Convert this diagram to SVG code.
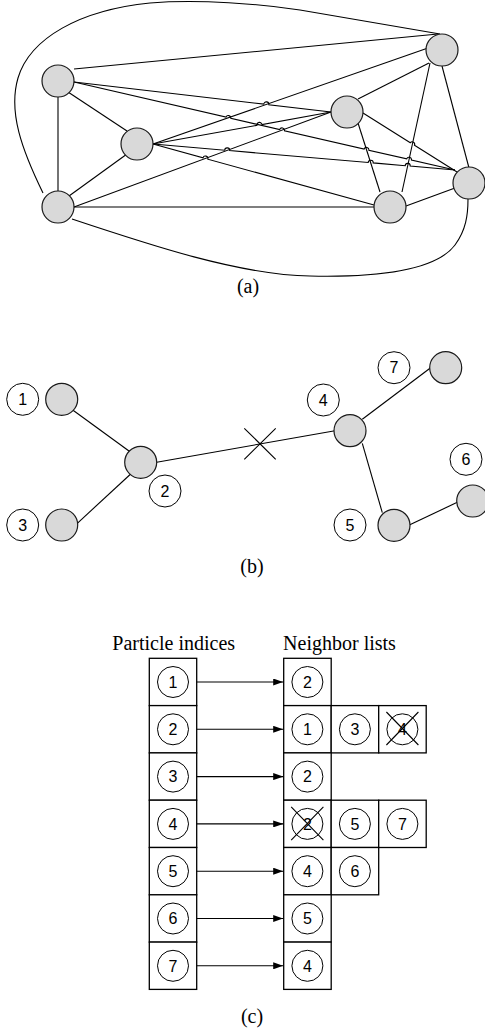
<svg xmlns="http://www.w3.org/2000/svg" width="485" height="1033" viewBox="0 0 485 1033">
<defs>
<style>
.e{fill:none;stroke:#000;stroke-width:1.1}
.n{fill:#d9d9d9;stroke:#1a1a1a;stroke-width:1.2}
.l{fill:#fff;stroke:#000;stroke-width:1}
.b{fill:#fff;stroke:#000;stroke-width:1.3}
.d{font-family:"Liberation Sans",Arial,sans-serif;font-size:16px;text-anchor:middle;fill:#000}
.t{font-family:"Liberation Serif","Times New Roman",serif;font-size:20px;text-anchor:middle;fill:#000}
.x{stroke:#000;stroke-width:1.1}
</style>
<marker id="ah" markerWidth="10" markerHeight="7" refX="10" refY="3.5" orient="auto" markerUnits="userSpaceOnUse">
<path d="M0,0 L10,3.5 L0,7 Z" fill="#000"/>
</marker>
</defs>
<rect width="485" height="1033" fill="#fff"/>

<!-- (a) connectors -->
<g id="a-connectors" class="e">
<path d="M74,69 L438,34"/>
<path d="M58,97 L58,191"/>
<path d="M68,92 L127,131"/>
<path d="M74,82 L263.8,104.1 A2.5,2.5 0 0 1 268.8,104.7 L331,112"/>
<path d="M74,82 L226,117.1 A2.5,2.5 0 0 1 230.8,118.3 L279.7,129.5 A2.5,2.5 0 0 1 284.5,130.7 L364.1,149 A2.5,2.5 0 0 1 368.9,150.2 L406.7,158.8 A2.5,2.5 0 0 1 411.5,160 L455,170"/>
<path d="M153,144 L428,48"/>
<path d="M153,144 L257,125.3 A2.5,2.5 0 0 1 262,124.5 L331,112"/>
<path d="M153,144 L224.7,150.2 A2.5,2.5 0 0 1 229.7,150.6 L368.2,162.5 A2.5,2.5 0 0 1 373.2,162.9 L405.2,165.7 A2.5,2.5 0 0 1 410.2,166.1 L455,170"/>
<path d="M153,144 L203,157.8 A2.5,2.5 0 0 1 207.8,159.2 L374,205"/>
<path d="M69,196 L127,154"/>
<path d="M74,207 L331,112"/>
<path d="M74,207 L374,207"/>
<path d="M43,193 C22,150 8,112 18,78 C30,38 80,10 150,3 C200,-1 260,4 300,10 L440,34"/>
<path d="M72,219 C150,245 240,275 310,276 C400,278 440,265 455,245 C466,230 468,215 468,199"/>
<path d="M358,99 L429,63"/>
<path d="M358,123 L380,192"/>
<path d="M363,113 L410.3,142.7 A2.5,2.5 0 0 1 414.5,145.3 L457,172"/>
<path d="M402,192 L430,63"/>
<path d="M406,206 L455,188"/>
<path d="M442,66 L469,168"/>
</g>

<!-- (a) nodes -->
<g id="a-node-1"><circle class="n" cx="58" cy="81" r="16"/></g>
<g id="a-node-2"><circle class="n" cx="137" cy="144" r="16"/></g>
<g id="a-node-3"><circle class="n" cx="58" cy="207" r="16"/></g>
<g id="a-node-4"><circle class="n" cx="442" cy="50" r="16"/></g>
<g id="a-node-5"><circle class="n" cx="347" cy="112" r="16"/></g>
<g id="a-node-6"><circle class="n" cx="390" cy="207" r="16"/></g>
<g id="a-node-7"><circle class="n" cx="469" cy="183" r="16"/></g>
<text class="t" x="248" y="292.5">(a)</text>

<!-- (b) connectors -->
<g id="b-connectors" class="e">
<path d="M72.7,410 L130,451.7"/>
<path d="M77.3,523.3 L130.7,474"/>
<path d="M156.7,462.3 L335,430.7"/>
<path d="M362.3,419.3 L430,368.3"/>
<path d="M362.3,443.3 L382.3,512.7"/>
<path d="M409.3,525 L457.3,502.3"/>
<path d="M244.3,428.3 L275.7,459.3 M244.3,459.3 L275.7,428.3"/>
</g>

<!-- (b) nodes -->
<g id="b-node-1"><circle class="n" cx="61.7" cy="399.3" r="16"/><circle class="l" cx="22.7" cy="399.3" r="16"/><text class="d" x="22.7" y="405">1</text></g>
<g id="b-node-2"><circle class="n" cx="140.7" cy="462.3" r="16"/><circle class="l" cx="165" cy="491" r="16"/><text class="d" x="165" y="496.7">2</text></g>
<g id="b-node-3"><circle class="n" cx="61.7" cy="525" r="16"/><circle class="l" cx="22.7" cy="525" r="16"/><text class="d" x="22.7" y="530.7">3</text></g>
<g id="b-node-4"><circle class="n" cx="350" cy="430.7" r="16"/><circle class="l" cx="323.3" cy="400" r="16"/><text class="d" x="323.3" y="405.7">4</text></g>
<g id="b-node-5"><circle class="n" cx="394" cy="525.3" r="16"/><circle class="l" cx="350" cy="525" r="16"/><text class="d" x="350" y="530.7">5</text></g>
<g id="b-node-6"><circle class="n" cx="472.7" cy="501" r="16"/><circle class="l" cx="466" cy="459.3" r="16"/><text class="d" x="466" y="465">6</text></g>
<g id="b-node-7"><circle class="n" cx="445.7" cy="367.7" r="16"/><circle class="l" cx="394" cy="367.7" r="16"/><text class="d" x="394" y="373.4">7</text></g>
<text class="t" x="252" y="573">(b)</text>

<!-- (c) -->
<text class="t" x="173.7" y="649.5">Particle indices</text>
<text class="t" x="339.5" y="649.5">Neighbor lists</text>

<g id="c-particles">
<rect class="b" x="149.3" y="658.3" width="47.4" height="47.3"/>
<rect class="b" x="149.3" y="705.6" width="47.4" height="47.3"/>
<rect class="b" x="149.3" y="752.9" width="47.4" height="47.3"/>
<rect class="b" x="149.3" y="800.2" width="47.4" height="47.3"/>
<rect class="b" x="149.3" y="847.5" width="47.4" height="47.3"/>
<rect class="b" x="149.3" y="894.8" width="47.4" height="47.3"/>
<rect class="b" x="149.3" y="942.1" width="47.4" height="47.3"/>
<circle class="l" cx="173" cy="682" r="15.5"/><text class="d" x="173" y="687.7">1</text>
<circle class="l" cx="173" cy="729.3" r="15.5"/><text class="d" x="173" y="735">2</text>
<circle class="l" cx="173" cy="776.6" r="15.5"/><text class="d" x="173" y="782.3">3</text>
<circle class="l" cx="173" cy="823.9" r="15.5"/><text class="d" x="173" y="829.6">4</text>
<circle class="l" cx="173" cy="871.2" r="15.5"/><text class="d" x="173" y="876.9">5</text>
<circle class="l" cx="173" cy="918.5" r="15.5"/><text class="d" x="173" y="924.2">6</text>
<circle class="l" cx="173" cy="965.8" r="15.5"/><text class="d" x="173" y="971.5">7</text>
</g>

<g id="c-neighbors">
<rect class="b" x="283.7" y="658.3" width="47.5" height="47.3"/>
<rect class="b" x="283.7" y="705.6" width="47.5" height="47.3"/>
<rect class="b" x="331.2" y="705.6" width="47.5" height="47.3"/>
<rect class="b" x="378.7" y="705.6" width="47.5" height="47.3"/>
<rect class="b" x="283.7" y="752.9" width="47.5" height="47.3"/>
<rect class="b" x="283.7" y="800.2" width="47.5" height="47.3"/>
<rect class="b" x="331.2" y="800.2" width="47.5" height="47.3"/>
<rect class="b" x="378.7" y="800.2" width="47.5" height="47.3"/>
<rect class="b" x="283.7" y="847.5" width="47.5" height="47.3"/>
<rect class="b" x="331.2" y="847.5" width="47.5" height="47.3"/>
<rect class="b" x="283.7" y="894.8" width="47.5" height="47.3"/>
<rect class="b" x="283.7" y="942.1" width="47.5" height="47.3"/>
<circle class="l" cx="307.4" cy="682" r="15.5"/><text class="d" x="307.4" y="687.7">2</text>
<circle class="l" cx="307.4" cy="729.3" r="15.5"/><text class="d" x="307.4" y="735">1</text>
<circle class="l" cx="354.9" cy="729.3" r="15.5"/><text class="d" x="354.9" y="735">3</text>
<circle class="l" cx="402.4" cy="729.3" r="15.5"/><text class="d" x="402.4" y="735">4</text>
<path class="x" d="M386.4,712 L418.4,745 M418.4,712 L386.4,745"/>
<circle class="l" cx="307.4" cy="776.6" r="15.5"/><text class="d" x="307.4" y="782.3">2</text>
<circle class="l" cx="307.4" cy="823.9" r="15.5"/><text class="d" x="307.4" y="829.6">2</text>
<path class="x" d="M291.2,806.9 L323.4,840.2 M323.4,806.9 L291.2,840.2"/>
<circle class="l" cx="354.9" cy="823.9" r="15.5"/><text class="d" x="354.9" y="829.6">5</text>
<circle class="l" cx="402.4" cy="823.9" r="15.5"/><text class="d" x="402.4" y="829.6">7</text>
<circle class="l" cx="307.4" cy="871.2" r="15.5"/><text class="d" x="307.4" y="876.9">4</text>
<circle class="l" cx="354.9" cy="871.2" r="15.5"/><text class="d" x="354.9" y="876.9">6</text>
<circle class="l" cx="307.4" cy="918.5" r="15.5"/><text class="d" x="307.4" y="924.2">5</text>
<circle class="l" cx="307.4" cy="965.8" r="15.5"/><text class="d" x="307.4" y="971.5">4</text>
</g>

<g id="c-connectors" class="e" marker-end="url(#ah)">
<path d="M196.7,682 L283.2,682" marker-end="url(#ah)"/>
<path d="M196.7,729.3 L283.2,729.3" marker-end="url(#ah)"/>
<path d="M196.7,776.6 L283.2,776.6" marker-end="url(#ah)"/>
<path d="M196.7,823.9 L283.2,823.9" marker-end="url(#ah)"/>
<path d="M196.7,871.2 L283.2,871.2" marker-end="url(#ah)"/>
<path d="M196.7,918.5 L283.2,918.5" marker-end="url(#ah)"/>
<path d="M196.7,965.8 L283.2,965.8" marker-end="url(#ah)"/>
</g>
<text class="t" x="252" y="1022.5">(c)</text>
</svg>
